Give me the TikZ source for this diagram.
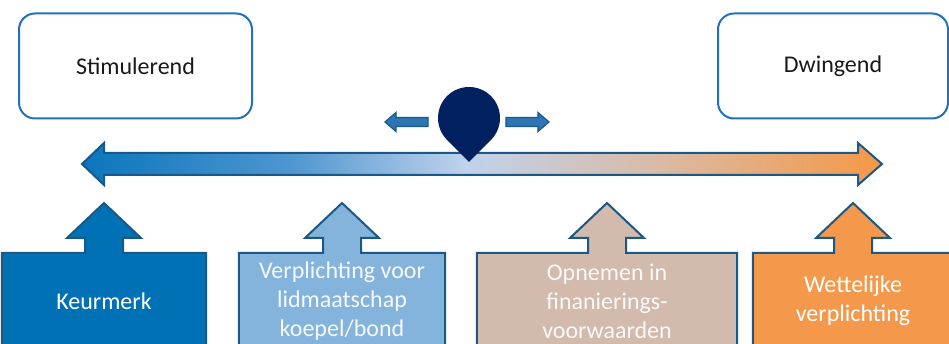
\documentclass[tikz,border=0pt]{standalone}
\usepackage{fontspec}
\setmainfont{Carlito}
\usetikzlibrary{calc, backgrounds}

\definecolor{edgeblue}{RGB}{33,113,187}
\definecolor{darkedge}{RGB}{26,88,136}
\definecolor{pinblue}{RGB}{0,32,96}
\definecolor{arrowblue}{RGB}{46,117,182}
\definecolor{keurfill}{RGB}{0,113,181}
\definecolor{lidfill}{RGB}{132,180,220}
\definecolor{finfill}{RGB}{210,186,173}
\definecolor{wetfill}{RGB}{244,152,76}

% colours along the scale, from stimulating to forcing
\definecolor{scaleA}{RGB}{10,118,188}
\definecolor{scaleB}{RGB}{78,150,208}
\definecolor{scaleC}{RGB}{192,210,236}
\definecolor{scaleD}{RGB}{218,186,165}
\definecolor{scaleE}{RGB}{245,152,70}
\pgfdeclarehorizontalshading{scaleshade}{100bp}{color(0bp)=(scaleA); color(25bp)=(scaleA);
  color(38bp)=(scaleB); color(49bp)=(scaleC); color(61bp)=(scaleD); color(75bp)=(scaleE); color(100bp)=(scaleE)}

% box with an upward arrow on top of it
\newcommand{\calloutoutline}[2]{%
  \filldraw[fill=#2, draw=darkedge, line width=2pt]
    (#1.south west) -- (#1.north west) -- ($(#1.north)+(-19,0)$) -- ++(0,15) -- ++(-18,0)
    -- ($(#1.north)+(0,50)$) -- ($(#1.north)+(37,15)$) -- ++(-18,0) -- ($(#1.north)+(19,0)$)
    -- (#1.north east) -- (#1.south east) -- cycle;}

\begin{document}
\begin{tikzpicture}[
    x=1pt, y=1pt,
    level/.style={draw=edgeblue, line width=2pt, rounded corners=16pt, minimum width=233pt, minimum height=105pt, font=\fontsize{24}{29}\selectfont, text=black!90},
    measure/.style={anchor=north, minimum height=96pt, inner sep=0pt, align=center, font=\fontsize{24}{29}\selectfont, text=white},
    smallarrow/.style={fill=arrowblue, draw=darkedge, line width=1.2pt}
]
    \useasboundingbox (0,0) rectangle (949,344);

    % Both ends of the scale
    \node[level] (stim) at (135.5,278) {Stimulerend};
    \node[level, minimum width=230pt] (dwing) at (833,278) {Dwingend};

    % Scale arrow
    \coordinate (scaleL) at (82,180);
    \coordinate (scaleR) at (882,180);
    \shadedraw[shading=scaleshade, draw=darkedge, line width=2pt]
        (scaleL) -- ++(22,21) -- ++(0,-10) -- ($(scaleR)+(-24,11)$) -- ++(0,10) -- (scaleR)
        -- ++(-24,-21) -- ++(0,10) -- ($(scaleL)+(22,-11)$) -- ++(0,-10) -- cycle;

    % Marker with its two small arrows
    \coordinate (pin) at (469,226);
    \coordinate (pintip) at (469,182);
    \fill[pinblue] (pintip) -- ($(pin)+(-45:31)$) arc[start angle=-45, end angle=225, radius=31] -- cycle;
    \coordinate (lefttip) at (385,222);
    \coordinate (righttip) at (549,222);
    \filldraw[smallarrow] (lefttip) -- ++(11,9.5) -- ++(0,-5) -- ++(32,0) -- ++(0,-9) -- ++(-32,0) -- ++(0,-5) -- cycle;
    \filldraw[smallarrow] (righttip) -- ++(-11,9.5) -- ++(0,-5) -- ++(-32,0) -- ++(0,-9) -- ++(32,0) -- ++(0,-5) -- cycle;

    % Measures below the scale
    \node[measure, minimum width=204pt] (keurmerk) at (104,91) {Keurmerk};
    \node[measure, minimum width=206pt, text=white!92!lidfill] (lidmaatschap) at (342,91) {Verplichting voor\\lidmaatschap\\koepel/bond};
    \node[measure, minimum width=260pt, text=white!92!finfill] (financiering) at (607,91) {Opnemen in\\finanierings-\\voorwaarden};
    \node[measure, minimum width=200pt] (wet) at (853,91) {Wettelijke\\verplichting};

    \begin{scope}[on background layer]
        \fill[white] (0,0) rectangle (949,344);
        \calloutoutline{keurmerk}{keurfill}
        \calloutoutline{lidmaatschap}{lidfill}
        \calloutoutline{financiering}{finfill}
        \calloutoutline{wet}{wetfill}
    \end{scope}
\end{tikzpicture}
\end{document}
